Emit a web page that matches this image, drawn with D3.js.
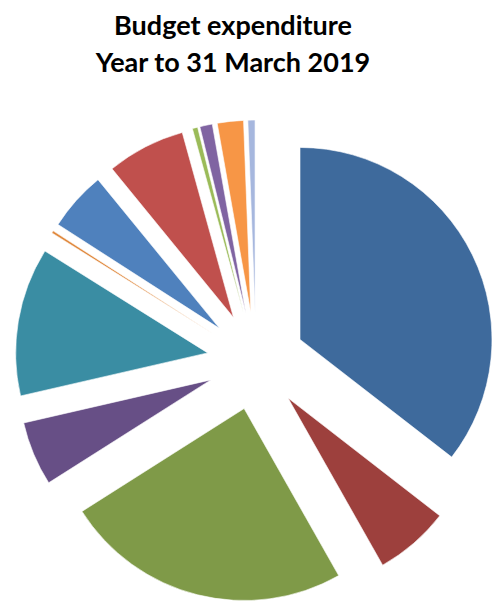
<!DOCTYPE html>
<html>
<head>
<meta charset="utf-8">
<script src="https://cdn.jsdelivr.net/npm/d3@7"></script>
<style>
  body { margin: 0; background: #fff; }
  svg { display: block; }
</style>
</head>
<body>
<svg id="chart" width="494" height="607"></svg>
<script>
// values (share of total, %)
const categories = ["Item 1", "Item 2", "Item 3", "Item 4", "Item 5", "Item 6",
                    "Item 7", "Item 8", "Item 9", "Item 10", "Item 11", "Item 12"];
const values = [35.5, 6.3, 24.2, 5.4, 12.5, 0.2, 5.0, 6.6, 0.45, 1.05, 2.2, 0.6];
const colors = ["#3e6a9c", "#9d403d", "#7f9a48", "#674f86", "#3a8da3", "#e0883c",
                "#4f81bd", "#c0504d", "#9bbb59", "#8064a2", "#f79646", "#a6b7de"];
const titleLines = ["Budget expenditure", "Year to 31 March 2019"];

const svg = d3.select("#chart");

const cx = 256, cy = 361, radius = 192, explode = 49;

// title
svg.append("g")
  .selectAll("text")
  .data(titleLines)
  .join("text")
  .attr("x", 233)
  .attr("y", (d, i) => 35 + i * 37)
  .attr("text-anchor", "middle")
  .attr("font-family", "Lato, 'Open Sans', sans-serif")
  .attr("font-weight", "bold")
  .attr("font-size", 27)
  .attr("fill", "#000")
  .text(d => d);

const pie = d3.pie().sort(null).value(d => d.value);
const arc = d3.arc().innerRadius(0).outerRadius(radius);

const data = categories.map((c, i) => ({ name: c, value: values[i], color: colors[i] }));

const g = svg.append("g").attr("transform", `translate(${cx},${cy})`);

g.selectAll("path")
  .data(pie(data))
  .join("path")
  .attr("transform", d => {
    const a = (d.startAngle + d.endAngle) / 2;
    return `translate(${Math.sin(a) * explode},${-Math.cos(a) * explode})`;
  })
  .attr("d", arc)
  .attr("fill", d => d.data.color)
  .attr("stroke", "#fff")
  .attr("stroke-width", 0.6);
</script>
</body>
</html>
